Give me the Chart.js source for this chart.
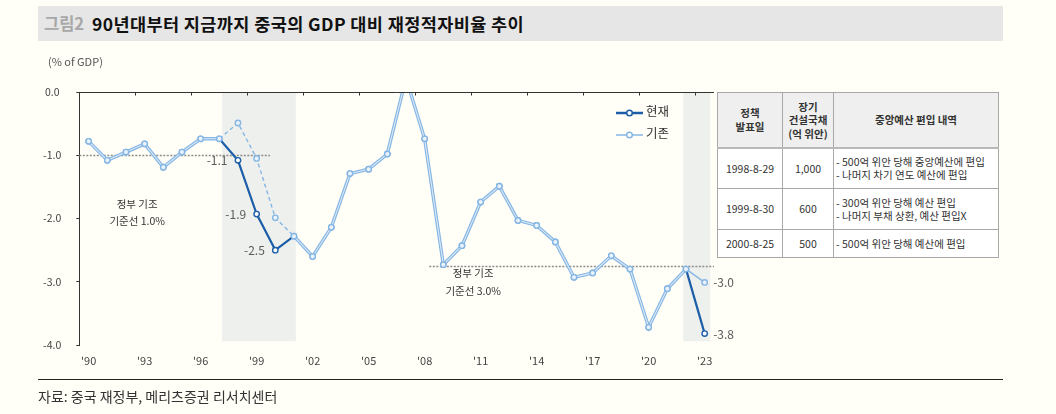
<!DOCTYPE html>
<html><head><meta charset="utf-8">
<script src="https://cdn.jsdelivr.net/npm/chart.js@4.4.1/dist/chart.umd.min.js"></script>
<style>
html,body{margin:0;padding:0;background:#fffef7;}
body{width:1056px;height:414px;position:relative;overflow:hidden;font-family:"Noto Sans CJK KR","Noto Sans",sans-serif;}
#cv{position:absolute;left:0;top:0;}
.titlebar{position:absolute;left:38px;top:6px;width:965px;height:35px;background:#e6e6e6;}
.titlebar span{position:absolute;top:0;line-height:35px;font-weight:700;font-size:17.5px;white-space:nowrap;}
.unit{position:absolute;left:48px;top:53px;font-size:11px;color:#555;font-family:"Liberation Sans Narrow","Noto Sans CJK KR",sans-serif;}
.legend{position:absolute;left:616px;font-size:12.5px;color:#333;line-height:14px;white-space:nowrap;}
.legend svg{vertical-align:middle;margin-right:2px;}
table{position:absolute;left:717px;top:92px;width:282px;height:166px;border-collapse:collapse;font-size:10.5px;color:#333;background:#fff;}
td,th{border:1px solid #a8a8a8;padding:0 2px;line-height:13.5px;}
th{background:#efefef;font-weight:700;text-align:center;border-bottom:2px solid #b8b8b8;}
td.c{text-align:center;}
.foot{position:absolute;left:38px;top:379px;width:965px;border-top:1.5px solid #222;}
.src{position:absolute;left:38px;top:386px;font-size:14px;color:#333;}
</style></head>
<body>
<canvas id="cv" width="1056" height="414"></canvas>
<div class="titlebar"><span style="left:6px;color:#a8a8a8;font-size:16.5px">그림2</span><span style="left:54px;color:#111;letter-spacing:0.4px">90년대부터 지금까지 중국의 GDP 대비 재정적자비율 추이</span></div>
<div class="unit">(% of GDP)</div>
<div class="legend" style="top:104px"><svg width="28" height="10"><line x1="0" y1="5" x2="27" y2="5" stroke="#1c5ea8" stroke-width="2.5"/><circle cx="13.5" cy="5" r="2.8" fill="#fff" stroke="#1c5ea8" stroke-width="1.5"/></svg>현재</div>
<div class="legend" style="top:126px"><svg width="28" height="10"><line x1="0" y1="5" x2="27" y2="5" stroke="#86b6e4" stroke-width="1.5"/><circle cx="13.5" cy="5" r="2.8" fill="#fff" stroke="#86b6e4" stroke-width="1.5"/></svg>기존</div>
<table>
<tr style="height:55px"><th style="width:60px">정책<br>발표일</th><th style="width:46px">장기<br>건설국채<br>(억 위안)</th><th>중앙예산 편입 내역</th></tr>
<tr style="height:41px"><td class="c">1998-8-29</td><td class="c">1,000</td><td>- 500억 위안 당해 중앙예산에 편입<br>- 나머지 차기 연도 예산에 편입</td></tr>
<tr style="height:41px"><td class="c">1999-8-30</td><td class="c">600</td><td>- 300억 위안 당해 예산 편입<br>- 나머지 부채 상환, 예산 편입X</td></tr>
<tr style="height:28px"><td class="c">2000-8-25</td><td class="c">500</td><td>- 500억 위안 당해 예산에 편입</td></tr>
</table>
<div class="foot"></div>
<div class="src">자료: 중국 재정부, 메리츠증권 리서치센터</div>
<script>
// ---- data ----
const years = ['1990','1991','1992','1993','1994','1995','1996','1997','1998','1999','2000','2001','2002','2003','2004','2005','2006','2007','2008','2009','2010','2011','2012','2013','2014','2015','2016','2017','2018','2019','2020','2021','2022','2023'];
const current  = [-0.78,-1.08,-0.95,-0.82,-1.19,-0.95,-0.74,-0.74,-1.08,-1.93,-2.50,-2.28,-2.60,-2.14,-1.29,-1.22,-0.98,0.22,-0.74,-2.73,-2.43,-1.74,-1.49,-2.03,-2.11,-2.37,-2.93,-2.86,-2.59,-2.80,-3.72,-3.11,-2.80,-3.82];
const previous = [-0.78,-1.08,-0.95,-0.82,-1.19,-0.95,-0.74,-0.74,-0.49,-1.05,-1.99,-2.28,-2.60,-2.14,-1.29,-1.22,-0.98,0.22,-0.74,-2.73,-2.43,-1.74,-1.49,-2.03,-2.11,-2.37,-2.93,-2.86,-2.59,-2.80,-3.72,-3.11,-2.80,-3.01];
const tickYears  = ['1990','1993','1996','1999','2002','2005','2008','2011','2014','2017','2020','2023'];
const tickLabels = ["'90","'93","'96","'99","'02","'05","'08","'11","'14","'17","'20","'23"];
const yTicks = [0,-1,-2,-3,-4];
const currentLabelYears = ['1998','1999','2000','2023'];
const previousLabelYears = ['2023'];
const bands = [[7.15, 11.1], [31.85, 33.3]];
const baselines = [{value:-1.0, from:-0.5, to:9.72, text:['정부 기조','기준선 1.0%'], tx:2.6, ty:-1.9},
                   {value:-2.75, from:18.25, to:33.5, text:['정부 기조','기준선 3.0%'], tx:20.6, ty:-3.0}];

const DARK = '#1c5ea8', LIGHT = '#86b6e4', PALE = '#dbe9f7';
const NARROW = '"Liberation Sans Narrow","Noto Sans CJK KR",sans-serif';
const KR = '"Noto Sans CJK KR",sans-serif';
const same = i => current[i] === previous[i];
const overlapSeg = c => same(c.p0DataIndex) && same(c.p1DataIndex);

const plugin = {
  id: 'deco',
  beforeDatasetsDraw(chart) {
    const {ctx, scales:{x, y}} = chart;
    const step = x.getPixelForValue(1) - x.getPixelForValue(0);
    ctx.save();
    ctx.fillStyle = '#eef0ed';
    bands.forEach(([a,b]) => {
      const x0 = x.getPixelForValue(0) + a*step, x1 = x.getPixelForValue(0) + b*step;
      ctx.fillRect(x0, y.getPixelForValue(0), x1-x0, y.getPixelForValue(-3.94)-y.getPixelForValue(0));
    });
    ctx.strokeStyle = '#8c8c8c'; ctx.lineWidth = 1.5; ctx.setLineDash([2,1.5]);
    baselines.forEach(b => {
      const yy = Math.round(y.getPixelForValue(b.value))+0.5;
      ctx.beginPath();
      ctx.moveTo(x.getPixelForValue(0)+b.from*step, yy);
      ctx.lineTo(x.getPixelForValue(0)+b.to*step, yy);
      ctx.stroke();
    });
    ctx.setLineDash([]);
    ctx.fillStyle = '#333'; ctx.font = '10.5px ' + KR; ctx.textAlign = 'center'; ctx.textBaseline = 'middle';
    baselines.forEach(b => {
      const tx = x.getPixelForValue(0) + b.tx*step, ty = y.getPixelForValue(b.ty);
      ctx.fillText(b.text[0], tx, ty - 8.5);
      ctx.fillText(b.text[1], tx, ty + 9);
    });
    ctx.restore();
  },
  afterDatasetsDraw(chart) {
    const {ctx, scales:{x, y}} = chart;
    const step = x.getPixelForValue(1) - x.getPixelForValue(0);
    ctx.save();
    const y0 = Math.round(y.getPixelForValue(0)) + 0.5;
    ctx.strokeStyle = '#333'; ctx.lineWidth = 1;
    ctx.beginPath(); ctx.moveTo(chart.chartArea.left, y0); ctx.lineTo(chart.chartArea.right, y0); ctx.stroke();
    for (let k = 3; k <= years.length - 1; k += 3) {
      const xx = Math.round(x.getPixelForValue(k) - step/2) + 0.5;
      ctx.beginPath(); ctx.moveTo(xx, y0); ctx.lineTo(xx, y0 + 3); ctx.stroke();
    }
    ctx.fillStyle = '#5a5a5a'; ctx.font = '12px ' + NARROW; ctx.textBaseline = 'middle';
    const m0 = chart.getDatasetMeta(0), m1 = chart.getDatasetMeta(1);
    currentLabelYears.forEach(yr => {
      const i = years.indexOf(yr), p = m0.data[i];
      const right = i === years.length - 1;
      ctx.textAlign = right ? 'left' : 'right';
      ctx.fillText(current[i].toFixed(1), right ? p.x + 8.5 : p.x - 10.5, p.y + 0.5);
    });
    previousLabelYears.forEach(yr => {
      const i = years.indexOf(yr), p = m1.data[i];
      ctx.textAlign = 'left';
      ctx.fillText(previous[i].toFixed(1), p.x + 8.5, p.y + 0.5);
    });
    ctx.restore();
  }
};

new Chart(document.getElementById('cv'), {
  type: 'line',
  data: {
    labels: years,
    datasets: [
      {
        label: '현재', data: current, borderColor: DARK, borderWidth: 2.2,
        segment: {
          borderColor: c => overlapSeg(c) ? PALE : DARK,
          borderWidth: c => overlapSeg(c) ? 1.1 : 2.2
        },
        pointRadius: 2.7, pointBorderWidth: 1.4,
        pointBorderColor: years.map((_, i) => same(i) ? LIGHT : DARK),
        pointBackgroundColor: years.map((_, i) => same(i) ? '#eaf3fc' : '#ffffff'),
        tension: 0
      },
      {
        label: '기존', data: previous, borderColor: LIGHT, borderWidth: 3.4,
        segment: {
          borderWidth: c => overlapSeg(c) ? 3.4 : 1.4,
          borderDash: c => (!overlapSeg(c) && c.p1DataIndex < 20) ? [4,3] : undefined
        },
        pointRadius: 2.7, pointBorderWidth: 1.4,
        pointBorderColor: LIGHT, pointBackgroundColor: '#eaf3fc',
        tension: 0
      }
    ]
  },
  options: {
    responsive: false, animation: false,
    layout: { padding: { left: 0, top: 92, right: 342, bottom: 0 } },
    plugins: { legend: { display: false }, tooltip: { enabled: false } },
    scales: {
      x: {
        offset: true,
        grid: { display: false, drawTicks: false },
        border: { display: false },
        afterFit: s => { s.height = 69; },
        ticks: {
          autoSkip: false, maxRotation: 0, padding: 9, color: '#444',
          font: { family: NARROW, size: 11 },
          callback: (v, i) => { const k = tickYears.indexOf(years[i]); return k >= 0 ? tickLabels[k] : ''; }
        }
      },
      y: {
        min: -4, max: 0,
        afterFit: s => { s.width = 79.3; },
        afterBuildTicks: s => { s.ticks = yTicks.map(v => ({ value: v })); },
        grid: { drawOnChartArea: false, drawTicks: true, tickLength: 3, color: '#333' },
        border: { display: true, color: '#333', width: 1 },
        ticks: {
          crossAlign: 'center', padding: 15, color: '#444',
          font: { family: NARROW, size: 10.5 },
          callback: v => v.toFixed(1)
        }
      }
    }
  },
  plugins: [plugin]
});
</script>
</body></html>
